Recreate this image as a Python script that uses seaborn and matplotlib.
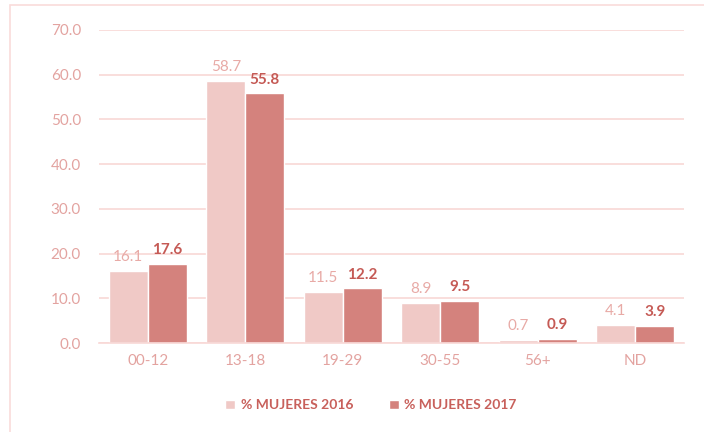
import seaborn as sns
import pandas as pd
import matplotlib.pyplot as plt
from matplotlib.patches import Rectangle

grupos = ['00-12', '13-18', '19-29', '30-55', '56+', 'ND']
mujeres_2016 = [16.1, 58.7, 11.5, 8.9, 0.7, 4.1]
mujeres_2017 = [17.6, 55.8, 12.2, 9.5, 0.9, 3.9]
series = ['% MUJERES 2016', '% MUJERES 2017']
yticks = [0, 10, 20, 30, 40, 50, 60, 70]

df = pd.DataFrame({
    'grupo': grupos * 2,
    'valor': mujeres_2016 + mujeres_2017,
    'serie': [series[0]] * len(grupos) + [series[1]] * len(grupos),
})

sns.set_theme(style='white')
plt.rcParams['font.family'] = ['Lato', 'DejaVu Sans']

light = '#f0c9c6'
dark = '#d4827d'
tick_col = '#e3a3a0'

fig = plt.figure(figsize=(7.04, 4.32), dpi=100)
ax = fig.add_axes([0.1406, 0.206, 0.8310, 0.7246])

sns.barplot(data=df, x='grupo', y='valor', hue='serie', palette=[light, dark],
            width=0.8, gap=0, saturation=1, ax=ax, legend=True)

ax.set_ylim(0, 70)
ax.set_yticks(yticks)
ax.set_yticklabels([f'{v:.1f}' for v in yticks])
ax.yaxis.grid(True, color='#f8d8d6', linewidth=1.2)
ax.set_axisbelow(True)
for s in ['top', 'right', 'left']:
    ax.spines[s].set_visible(False)
ax.spines['bottom'].set_color('#f8d8d6')
ax.spines['bottom'].set_linewidth(1.2)
ax.tick_params(axis='both', length=0, colors=tick_col, labelsize=11)
ax.tick_params(axis='y', pad=13)
ax.tick_params(axis='x', pad=8)
ax.set_xlabel('')
ax.set_ylabel('')

ax.bar_label(ax.containers[0], fmt='%.1f', padding=5, color='#e8aaa6', fontsize=11)
ax.bar_label(ax.containers[1], fmt='%.1f', padding=5, color='#c55a55', fontsize=11,
             fontweight='bold')

leg = ax.legend(loc='upper center', bbox_to_anchor=(0.465, -0.14), ncol=2, frameon=False,
                fontsize=10, handlelength=0.7, handleheight=0.7, columnspacing=2.6,
                handletextpad=0.4)
for t in leg.get_texts():
    t.set_color('#c8605b')
    t.set_fontweight('bold')

fig.patches.append(Rectangle((10 / 704, -0.1), 1.1, 1 - 5 / 432 + 0.1,
                             transform=fig.transFigure, fill=False,
                             edgecolor='#fadcda', linewidth=1.2))

fig.savefig('out.png', dpi=100)
